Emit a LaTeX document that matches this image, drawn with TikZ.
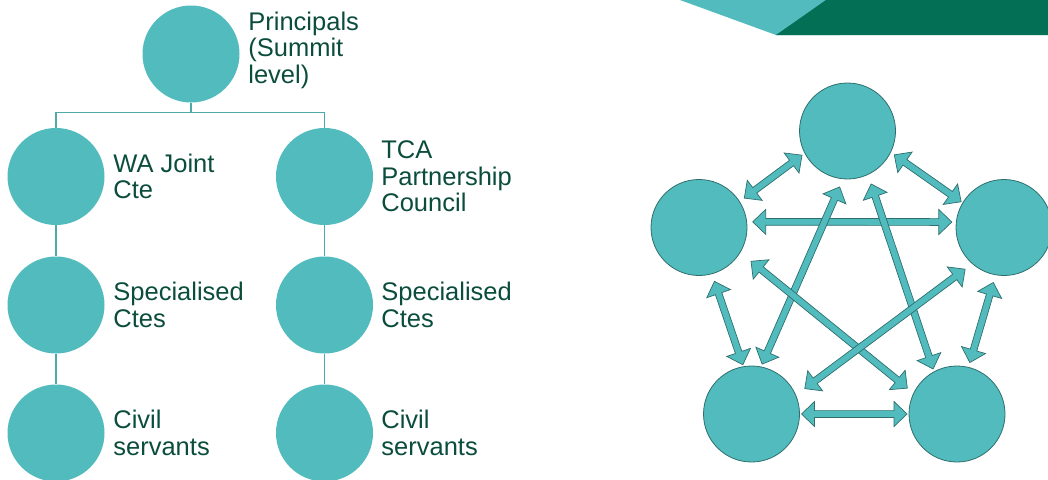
\documentclass[tikz,border=0pt]{standalone}
\usepackage{fontspec}
\setmainfont{Liberation Sans}
\usetikzlibrary{calc}

\definecolor{discfill}{HTML}{52BBBD}
\definecolor{labelgreen}{HTML}{0B4D3C}
\definecolor{ringline}{HTML}{2E6F6E}
\definecolor{linkline}{HTML}{4FA9AB}
\definecolor{bannergreen}{HTML}{036F55}

\tikzset{
  orgdisc/.style={circle, fill=discfill, minimum size=97pt, inner sep=0pt},
  netdisc/.style={circle, fill=discfill, draw=ringline, line width=0.8pt, minimum size=96pt, inner sep=0pt},
  lbl/.style={anchor=west, align=left, inner sep=0pt, text=labelgreen,
              font=\fontsize{25.5}{26.5}\selectfont},
  link/.style={draw=linkline, line width=1.3pt},
  biarrow/.style={fill=discfill, draw=ringline, line width=0.7pt, line join=miter},
}

% double-headed block arrow between two points
\newcommand\twoway[2]{%
  \path[biarrow] let \p1=(#1), \p2=(#2),
    \n1={atan2(\y2-\y1,\x2-\x1)}, \n2={veclen(\x2-\x1,\y2-\y1)} in
    (\p1)
    -- ($(\p1)+(\n1:13pt)+(\n1+90:12.5pt)$)
    -- ($(\p1)+(\n1:13pt)+(\n1+90:3.4pt)$)
    -- ($(\p1)+(\n1:\n2-13pt)+(\n1+90:3.4pt)$)
    -- ($(\p1)+(\n1:\n2-13pt)+(\n1+90:12.5pt)$)
    -- (\p2)
    -- ($(\p1)+(\n1:\n2-13pt)+(\n1-90:12.5pt)$)
    -- ($(\p1)+(\n1:\n2-13pt)+(\n1-90:3.4pt)$)
    -- ($(\p1)+(\n1:13pt)+(\n1-90:3.4pt)$)
    -- ($(\p1)+(\n1:13pt)+(\n1-90:12.5pt)$)
    -- cycle;}

\begin{document}
\begin{tikzpicture}[x=1pt,y=1pt]
\useasboundingbox (0,0) rectangle (1048,-479);
\clip (0,0) rectangle (1048,-479);

% corner banner
\fill[discfill] (680,0) -- (776,-35) -- (840,-35) -- (860,0) -- cycle;
\fill[bannergreen] (776,-35) -- (1048,-35) -- (1048,0) -- (826,0) -- cycle;

% ---- hierarchy ----
\node[orgdisc] (P)  at (191,-54) {};
\node[orgdisc] (W)  at (56,-176.5) {};
\node[orgdisc] (C)  at (324.5,-176.5) {};
\node[orgdisc] (WS) at (56,-305) {};
\node[orgdisc] (CS) at (324.5,-305) {};
\node[orgdisc] (WV) at (56,-433) {};
\node[orgdisc] (CV) at (324.5,-433) {};

\draw[link] (P.south) -- ++(0,-10) -| (W.north);
\draw[link] (P.south) -- ++(0,-10) -| (C.north);
\draw[link] (W.south) -- (WS.north);
\draw[link] (WS.south) -- (WV.north);
\draw[link] (C.south) -- (CS.north);
\draw[link] (CS.south) -- (CV.north);

\node[lbl] (Pt)  at ($(P.east)+(8.5,4)$) {Principals\\(Summit\\level)};
\node[lbl] (Wt)  at ($(W.east)+(8.5,0)$) {WA Joint\\Cte};
\node[lbl] (Ct)  at ($(C.east)+(8,0)$) {TCA\\Partnership\\Council};
\node[lbl] (WSt) at ($(WS.east)+(8.5,0)$) {Specialised\\Ctes};
\node[lbl] (CSt) at ($(CS.east)+(8,0)$) {Specialised\\Ctes};
\node[lbl] (WVt) at ($(WV.east)+(8.5,0)$) {Civil\\servants};
\node[lbl] (CVt) at ($(CV.east)+(8,0)$) {Civil\\servants};

% ---- network of five ----
\node[netdisc] (T)  at (847.5,-131) {};
\node[netdisc] (L)  at (699,-227.5) {};
\node[netdisc] (R)  at (1004,-227.5) {};
\node[netdisc] (BL) at (751.5,-414) {};
\node[netdisc] (BR) at (957,-414) {};

\twoway{$(L)+(33:54)$}{$(T)+(208:51.5)$}
\twoway{$(T)+(333:52.5)$}{$(R)+(149:50)$}
\twoway{$(L)+(6:54)$}{$(R)+(174:52.5)$}
\twoway{$(T)+(262:56.5)$}{$(BL)+(78:51)$}
\twoway{$(T)+(294:58)$}{$(BR)+(118:51)$}
\twoway{$(L)+(286:56)$}{$(BL)+(100:50)$}
\twoway{$(L)+(327:62)$}{$(BR)+(152.5:56)$}
\twoway{$(R)+(227:57)$}{$(BL)+(25.5:59)$}
\twoway{$(R)+(259:56)$}{$(BR)+(76:53)$}
\twoway{$(BL)+(0:50)$}{$(BR)+(180:50)$}
\end{tikzpicture}
\end{document}
